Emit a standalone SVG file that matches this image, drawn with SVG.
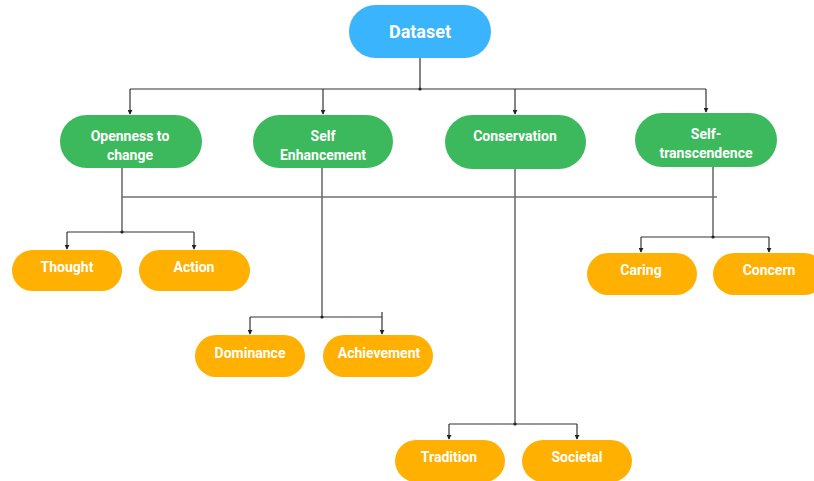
<svg xmlns="http://www.w3.org/2000/svg" width="814" height="481" viewBox="0 0 814 481">
<defs>
<style>
.root{fill:#3ab5fd}
.cat{fill:#3cb95d}
.leaf{fill:#ffb000}
text{font-family:Roboto,"Liberation Sans",sans-serif;font-weight:bold;fill:#ffffff;text-anchor:middle}
.t18{font-size:18px}
.t14{font-size:14px}
.c1{fill:none;stroke:#333333;stroke-width:1.2}
.c2{fill:none;stroke:#6f6f6f;stroke-width:1.6}
.dot{fill:#222222}
</style>
<marker id="ah" viewBox="0 0 6 6" refX="5" refY="3" markerWidth="5" markerHeight="5" orient="auto" markerUnits="userSpaceOnUse">
<path d="M0,0 L6,3 L0,6 z" fill="#222222"/>
</marker>
</defs>
<rect width="814" height="481" fill="#ffffff"/>
<g id="connectors">
<path class="c1" d="M420,58 V89"/>
<path class="c1" d="M130,89 H706"/>
<path class="c1" d="M130,89 V114" marker-end="url(#ah)"/>
<path class="c1" d="M323,89 V114" marker-end="url(#ah)"/>
<path class="c1" d="M515,89 V114" marker-end="url(#ah)"/>
<path class="c1" d="M706,89 V112" marker-end="url(#ah)"/>
<circle class="dot" cx="420" cy="89" r="1.6"/>
<path class="c2" d="M122,197 H717"/>
<path class="c2" d="M122,168 V232"/>
<path class="c1" d="M67,232 H194"/>
<path class="c1" d="M67,232 V249" marker-end="url(#ah)"/>
<path class="c1" d="M194,232 V249" marker-end="url(#ah)"/>
<circle class="dot" cx="122" cy="232" r="1.6"/>
<path class="c2" d="M322,168 V317"/>
<path class="c1" d="M250,317 H382"/>
<path class="c1" d="M250,317 V334" marker-end="url(#ah)"/>
<path class="c1" d="M382,312 V334" marker-end="url(#ah)"/>
<circle class="dot" cx="322" cy="317" r="1.6"/>
<path class="c2" d="M515,169 V424"/>
<path class="c1" d="M449,424 H577"/>
<path class="c1" d="M449,424 V439" marker-end="url(#ah)"/>
<path class="c1" d="M577,424 V439" marker-end="url(#ah)"/>
<circle class="dot" cx="515" cy="424" r="1.6"/>
<path class="c2" d="M713,167 V237"/>
<path class="c1" d="M641,237 H769"/>
<path class="c1" d="M641,237 V252" marker-end="url(#ah)"/>
<path class="c1" d="M769,237 V252" marker-end="url(#ah)"/>
<circle class="dot" cx="713" cy="237" r="1.6"/>
</g>
<g id="dataset"><rect class="root" x="349" y="5" width="142" height="53" rx="26.5"/><text class="t18" x="420" y="38">Dataset</text></g>
<g id="openness"><rect class="cat" x="60" y="115" width="142" height="53" rx="26.5"/><text class="t14" x="130" y="141">Openness to</text><text class="t14" x="130" y="160">change</text></g>
<g id="self-enhancement"><rect class="cat" x="253" y="115" width="140" height="53" rx="26.5"/><text class="t14" x="323" y="141">Self</text><text class="t14" x="323" y="160">Enhancement</text></g>
<g id="conservation"><rect class="cat" x="445" y="115" width="141" height="54" rx="27"/><text class="t14" x="515" y="141">Conservation</text></g>
<g id="self-transcendence"><rect class="cat" x="635" y="113" width="142" height="54" rx="27"/><text class="t14" x="706" y="139">Self-</text><text class="t14" x="706" y="158">transcendence</text></g>
<g id="thought"><rect class="leaf" x="12" y="250" width="110" height="41" rx="20.5"/><text class="t14" x="67" y="272">Thought</text></g>
<g id="action"><rect class="leaf" x="139" y="250" width="111" height="41" rx="20.5"/><text class="t14" x="194" y="272">Action</text></g>
<g id="caring"><rect class="leaf" x="587" y="253" width="110" height="42" rx="21"/><text class="t14" x="641" y="275">Caring</text></g>
<g id="concern"><rect class="leaf" x="713" y="253" width="112" height="42" rx="21"/><text class="t14" x="769" y="275">Concern</text></g>
<g id="dominance"><rect class="leaf" x="195" y="335" width="110" height="42" rx="21"/><text class="t14" x="250" y="358">Dominance</text></g>
<g id="achievement"><rect class="leaf" x="323" y="335" width="110" height="42" rx="21"/><text class="t14" x="379" y="358">Achievement</text></g>
<g id="tradition"><rect class="leaf" x="395" y="440" width="110" height="42" rx="21"/><text class="t14" x="449" y="462">Tradition</text></g>
<g id="societal"><rect class="leaf" x="522" y="440" width="110" height="42" rx="21"/><text class="t14" x="577" y="462">Societal</text></g>
</svg>
